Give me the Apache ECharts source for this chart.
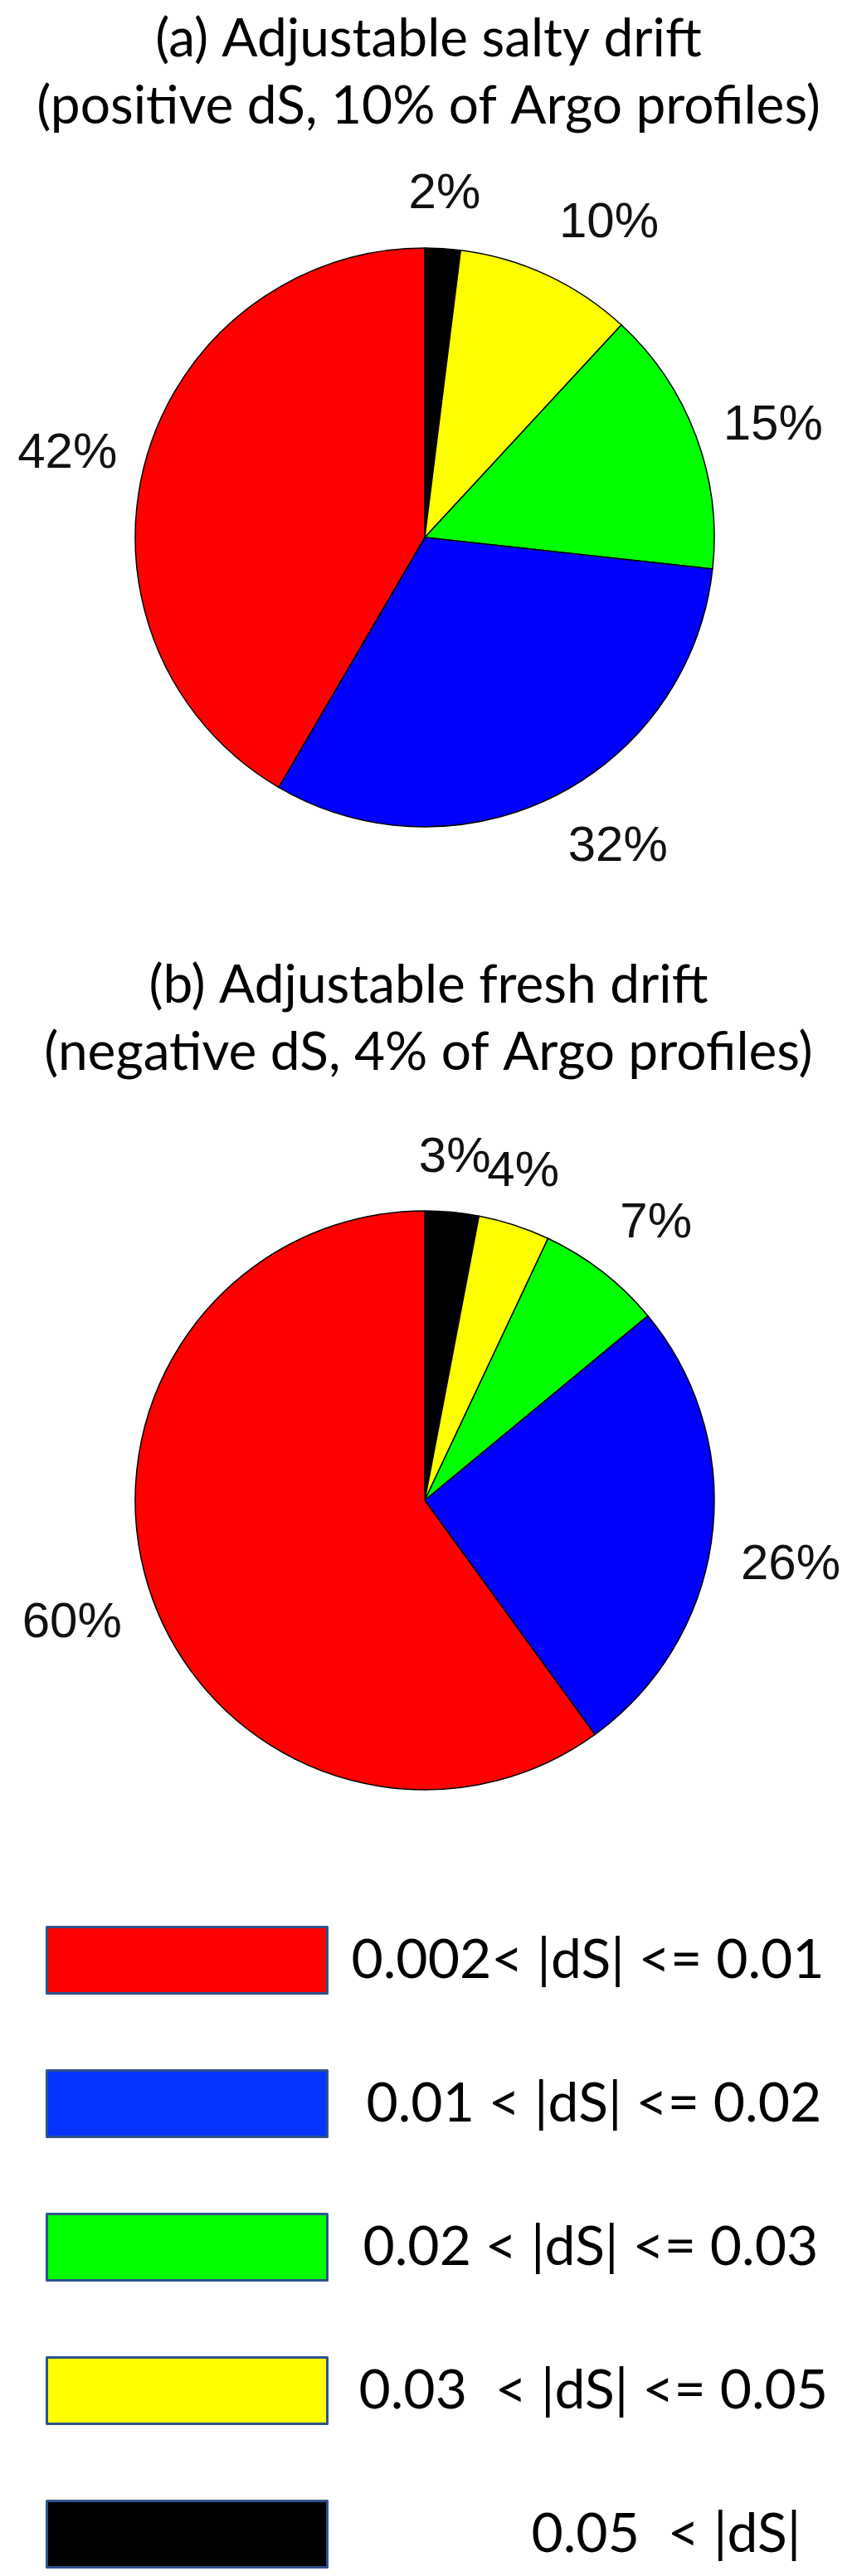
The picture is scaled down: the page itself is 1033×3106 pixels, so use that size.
<!DOCTYPE html>
<html>
<head>
<meta charset="utf-8">
<script src="https://cdn.jsdelivr.net/npm/echarts@6/dist/echarts.min.js"></script>
<style>
  html, body { margin: 0; padding: 0; background: #fff; }
  #drift { width: 1033px; height: 3106px; }
</style>
</head>
<body>
<div id="drift"></div>
<script>
// slice order follows the pie, clockwise from 12 o'clock
var categories = ["0.05  < |dS|", "0.03  < |dS| <= 0.05", "0.02 < |dS| <= 0.03", "0.01 < |dS| <= 0.02", "0.002< |dS| <= 0.01"];
var sliceColors = ["#000000", "#ffff00", "#00ff00", "#0000ff", "#ff0000"];
var saltyPct = [2, 10, 15, 32, 42];
var freshPct = [3, 4, 7, 26, 60];
var titles = ["(a) Adjustable salty drift", "(b) Adjustable fresh drift"];
var subtitles = ["(positive dS, 10% of Argo profiles)", "(negative dS, 4% of Argo profiles)"];

var titleFont = "Lato";
var labelFont = "'Liberation Sans', Arial, sans-serif";

// mid angle of every slice (radians, clockwise from top), used to align labels like matlab does
function midAngles(values) {
  var total = values.reduce(function (a, b) { return a + b; }, 0);
  var acc = 0;
  return values.map(function (v) {
    var m = (acc + v / 2) / total * 2 * Math.PI;
    acc += v;
    return m;
  });
}

function pieSeries(name, values, cy) {
  var mids = midAngles(values);
  return {
    name: name,
    type: "pie",
    center: [512, cy],
    radius: 349,
    startAngle: 90,
    clockwise: true,
    silent: true,
    avoidLabelOverlap: false,
    emphasis: { disabled: true },
    itemStyle: { borderColor: "#000", borderWidth: 1.5 },
    label: {
      show: true,
      position: "outside",
      formatter: "{c}%",
      distanceToLabelLine: 0,
      fontFamily: labelFont,
      fontSize: 60,
      color: "#111"
    },
    labelLine: { show: false, length: 35, length2: 0 },
    labelLayout: function (p) {
      var a = mids[p.dataIndex];
      var s = Math.sin(a), c = Math.cos(a);
      return {
        align: Math.abs(s) < 0.34 ? "center" : (s > 0 ? "left" : "right"),
        verticalAlign: c > 0.5 ? "bottom" : (c < -0.05 ? "top" : "middle")
      };
    },
    data: values.map(function (v, i) {
      return { name: categories[i], value: v, itemStyle: { color: sliceColors[i] } };
    })
  };
}

var legendNames = categories.slice().reverse();
var legendPad = [24, 42, 38, 33, 241];

var myChart = echarts.init(document.getElementById("drift"));
myChart.setOption({
  animation: false,
  backgroundColor: "#fff",
  title: [0, 1].map(function (k) {
    return {
      text: titles[k],
      subtext: subtitles[k],
      left: "center",
      top: k === 0 ? 15 : 1156,
      padding: 0,
      itemGap: 17,
      textStyle: { fontFamily: titleFont, fontSize: 64, fontWeight: "normal", color: "#000" },
      subtextStyle: { fontFamily: titleFont, fontSize: 64, color: "#000" }
    };
  }),
  legend: {
    orient: "vertical",
    left: 55,
    top: 2322,
    padding: 0,
    icon: "rect",
    itemWidth: 338,
    itemHeight: 80,
    itemGap: 90,
    selectedMode: false,
    itemStyle: { borderColor: "#2f528f", borderWidth: 3 },
    textStyle: { fontFamily: titleFont, fontSize: 66, lineHeight: 70, color: "#000" },
    data: legendNames.map(function (n, i) {
      var item = { name: n, textStyle: { padding: [0, 0, 0, legendPad[i]] } };
      if (i === 1) item.itemStyle = { color: "#0433ff" };
      return item;
    })
  },
  series: [
    pieSeries("salty", saltyPct, 648),
    pieSeries("fresh", freshPct, 1809)
  ]
});
</script>
</body>
</html>
